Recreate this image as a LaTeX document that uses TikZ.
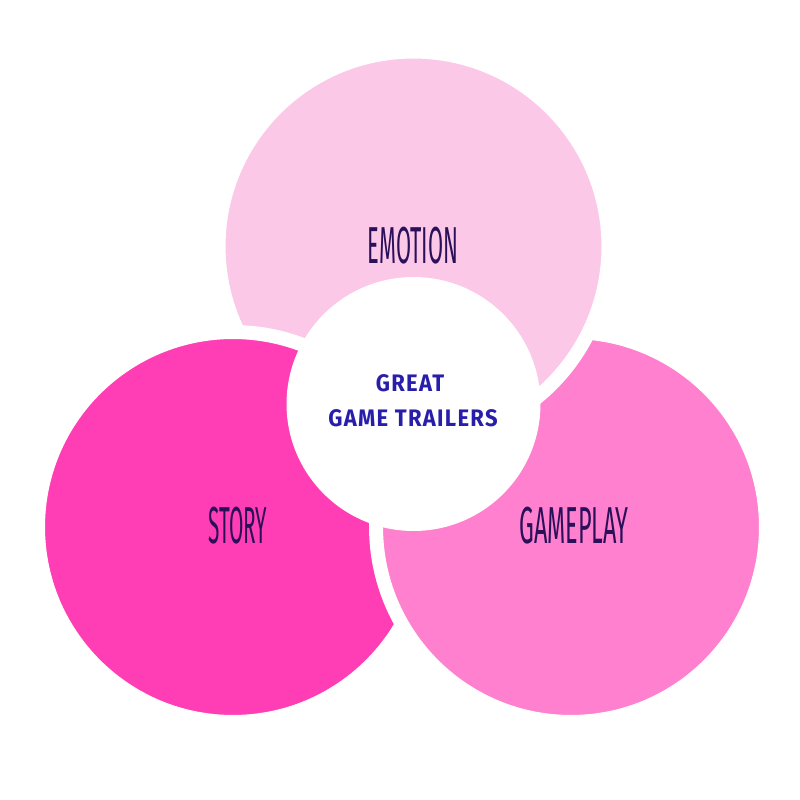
\documentclass[tikz,border=0pt]{standalone}
\usepackage{fontspec}
\usepackage{graphicx}
\usetikzlibrary{positioning}
\newfontfamily\labelfont{Fira Sans}
\newfontfamily\titlefont{Fira Sans}[LetterSpace=6]
\definecolor{palepink}{RGB}{252,200,232}
\definecolor{hotpink}{RGB}{255,61,180}
\definecolor{midpink}{RGB}{255,128,206}
\definecolor{darkplum}{RGB}{42,16,88}
\definecolor{trailerblue}{RGB}{40,30,170}
\newcommand{\venntext}[2][0.42]{\scalebox{#1}[1]{#2}}

\begin{document}
\begin{tikzpicture}[
        x=0.02cm, y=-0.02cm,
        venn/.style={circle, draw=white, line width=0.28cm, minimum size=7.8cm, inner sep=0pt},
        vennlabel/.style={font=\labelfont\fontsize{29.6}{29.6}\selectfont, text=darkplum, inner sep=0pt},
        hub/.style={circle, fill=white, minimum size=5.08cm, inner sep=0pt},
        hubtext/.style={font=\titlefont\bfseries\fontsize{13.6}{13.6}\selectfont, text=trailerblue, inner sep=0pt},
    ]

    \fill[white] (0,0) rectangle (800,800);
    \useasboundingbox (0,0) rectangle (800,800);

    % ===== Three circles =====
    \node[venn, fill=palepink] (EMO) at (413.5,246.5) {};
    \node[venn, fill=hotpink] (STO) at (233,527) {};
    \node[venn, fill=midpink] (GAME) at (571,527) {};

    % top circle lies over the right one
    \begin{scope}
        \clip (GAME.center) circle (4.1cm);
        \node[venn, fill=palepink] (EMO_OVER) at (EMO.center) {};
    \end{scope}

    % ===== Labels =====
    \node[vennlabel] (EMO_LABEL) at (413,246) {\venntext{EMOTION}};
    \node[vennlabel] (STO_LABEL) at (238,526) {\venntext[0.40]{STORY}};
    \node[vennlabel] (GAME_LABEL) at (574,526) {\venntext[0.45]{GAMEPLAY}};

    % ===== Centre =====
    \node[hub] (HUB) at (413.5,404) {};
    \node[hubtext] (HUB_TOP) at (410,383) {\scalebox{0.92}[1]{GREAT}};
    \node[hubtext] (HUB_BOT) at (413,418) {\scalebox{0.92}[1]{GAME TRAILERS}};

\end{tikzpicture}
\end{document}
